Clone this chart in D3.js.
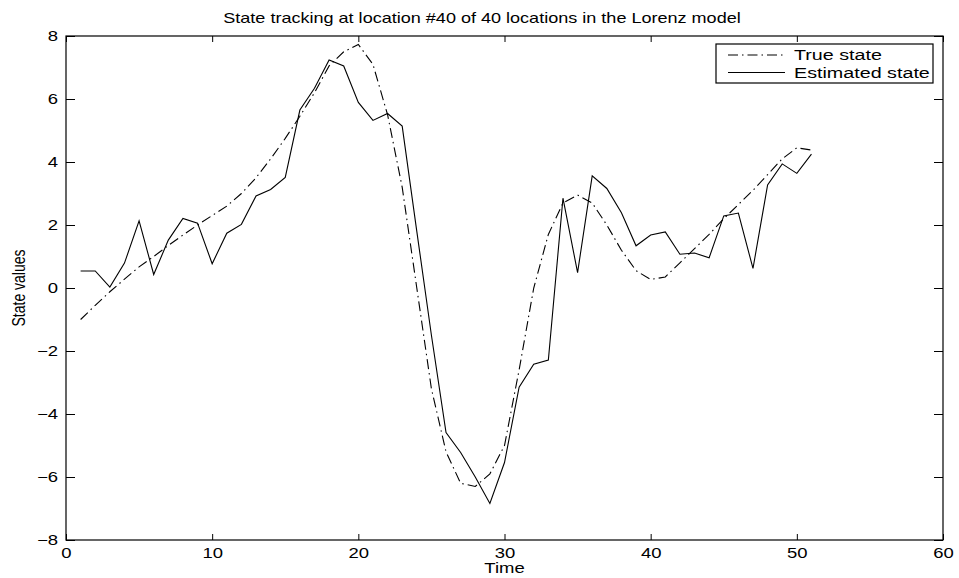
<!DOCTYPE html>
<html>
<head>
<meta charset="utf-8">
<script src="https://cdn.jsdelivr.net/npm/d3@7/dist/d3.min.js"></script>
<style>
body { margin: 0; background: #fff; }
text { font-family: "Liberation Sans", Arial, Helvetica, sans-serif; fill: #000; }
</style>
</head>
<body>
<svg id="chart"></svg>
<script>
const w = 959, h = 578,
m = { left: 66, right: 943, top: 36, bottom: 540 },
sx = 1.32,          // the picture is stretched sideways, text with it
fontSize = 14;

const times = [1, 2, 3, 4, 5, 6, 7, 8, 9, 10, 11, 12, 13, 14, 15, 16, 17, 18, 19, 20,
    21, 22, 23, 24, 25, 26, 27, 28, 29, 30, 31, 32, 33, 34, 35, 36, 37, 38, 39, 40,
    41, 42, 43, 44, 45, 46, 47, 48, 49, 50, 51];

const trueState = [-1.0, -0.55, -0.12, 0.28, 0.67, 1.0, 1.35, 1.68, 2.0, 2.3,
    2.6, 3.0, 3.5, 4.1, 4.75, 5.45, 6.2, 7.05, 7.5, 7.73,
    7.1, 5.5, 3.2, 0.0, -3.2, -5.2, -6.2, -6.3, -5.9, -5.0,
    -2.6, 0.0, 1.7, 2.7, 2.95, 2.7, 2.0, 1.2, 0.55, 0.27,
    0.35, 0.8, 1.25, 1.7, 2.2, 2.65, 3.1, 3.6, 4.1, 4.45, 4.38];

const estimatedState = [0.54, 0.54, 0.03, 0.79, 2.13, 0.43, 1.52, 2.21, 2.06, 0.77,
    1.74, 2.02, 2.92, 3.13, 3.51, 5.65, 6.34, 7.24, 7.05, 5.89,
    5.32, 5.54, 5.14, 1.8, -1.5, -4.59, -5.22, -6.0, -6.84, -5.54,
    -3.15, -2.42, -2.29, 2.85, 0.49, 3.56, 3.16, 2.39, 1.34, 1.68,
    1.78, 1.07, 1.11, 0.96, 2.29, 2.38, 0.62, 3.27, 3.94, 3.64, 4.25];

const xTicks = [0, 10, 20, 30, 40, 50, 60],
yTicks = [-8, -6, -4, -2, 0, 2, 4, 6, 8];

const seriesNames = ["True state", "Estimated state"],
dashes = ["10,4,1.5,4", null];

const titleText = "State tracking at location #40 of 40 locations in the Lorenz model",
xLabel = "Time",
yLabel = "State values";

const x = d3.scaleLinear().domain([0, 60]).range([m.left, m.right]);
const y = d3.scaleLinear().domain([-8, 8]).range([m.bottom, m.top]);

const svg = d3.select("#chart")
    .attr("width", w)
    .attr("height", h)
    .attr("viewBox", [0, 0, w, h]);

// stretch a text sideways around its own x position
const stretch = (sel, px, s = sx) => sel
    .attr("x", px / s)
    .attr("transform", `scale(${s},1)`);

const minus = d => d < 0 ? "\u2212" + Math.abs(d) : d;

// axes with inward ticks, matlab style
svg.append("g")
    .attr("transform", `translate(0,${m.bottom})`)
    .call(d3.axisBottom(x).tickValues(xTicks).tickSizeInner(-6).tickSizeOuter(0).tickPadding(8))
    .call(g => g.select(".domain").remove())
    .call(g => g.selectAll("text").attr("font-size", fontSize).attr("dy", "0.68em").call(stretch, 0));

svg.append("g")
    .attr("transform", `translate(0,${m.top})`)
    .call(d3.axisTop(x).tickValues(xTicks).tickSizeInner(-6).tickSizeOuter(0).tickFormat(""))
    .call(g => g.select(".domain").remove());

svg.append("g")
    .attr("transform", `translate(${m.left},0)`)
    .call(d3.axisLeft(y).tickValues(yTicks).tickSizeInner(-9).tickSizeOuter(0).tickFormat(minus))
    .call(g => g.select(".domain").remove())
    .call(g => g.selectAll("text").attr("font-size", fontSize).call(stretch, -8));

svg.append("g")
    .attr("transform", `translate(${m.right},0)`)
    .call(d3.axisRight(y).tickValues(yTicks).tickSizeInner(-9).tickSizeOuter(0).tickFormat(""))
    .call(g => g.select(".domain").remove());

svg.selectAll(".tick line").attr("stroke", "#000");

svg.append("rect")
    .attr("x", m.left)
    .attr("y", m.top)
    .attr("width", m.right - m.left)
    .attr("height", m.bottom - m.top)
    .attr("fill", "none")
    .attr("stroke", "#000")
    .attr("stroke-width", 1.2);

const line = vals => d3.line()
    .x((d, i) => x(times[i]))
    .y(d => y(d))(vals);

[trueState, estimatedState].forEach((vals, i) => {
    svg.append("path")
        .attr("d", line(vals))
        .attr("fill", "none")
        .attr("stroke", "#000")
        .attr("stroke-width", 1.1)
        .attr("stroke-dasharray", dashes[i]);
});

// title and axis labels
svg.append("text")
    .attr("y", 23)
    .attr("font-size", fontSize)
    .attr("text-anchor", "middle")
    .text(titleText)
    .call(stretch, 482, 1.29);

svg.append("text")
    .attr("y", 573)
    .attr("font-size", fontSize)
    .attr("text-anchor", "middle")
    .text(xLabel)
    .call(stretch, (m.left + m.right) / 2);

svg.append("text")
    .attr("font-size", fontSize)
    .attr("text-anchor", "middle")
    .attr("transform", `translate(25,${(m.top + m.bottom) / 2}) scale(${sx},1) rotate(-90)`)
    .text(yLabel);

// legend
const legend = svg.append("g");
legend.append("rect")
    .attr("x", 716)
    .attr("y", 44)
    .attr("width", 217)
    .attr("height", 39)
    .attr("fill", "#fff")
    .attr("stroke", "#000")
    .attr("stroke-width", 1.2);

seriesNames.forEach((name, i) => {
    const ly = 55 + i * 17.5;
    legend.append("line")
        .attr("x1", 728).attr("x2", 785)
        .attr("y1", ly).attr("y2", ly)
        .attr("stroke", "#000")
        .attr("stroke-width", 1.1)
        .attr("stroke-dasharray", dashes[i]);
    legend.append("text")
        .attr("y", ly)
        .attr("dy", "0.36em")
        .attr("font-size", 14.5)
        .text(name)
        .call(stretch, 794, 1.36);
});
</script>
</body>
</html>
